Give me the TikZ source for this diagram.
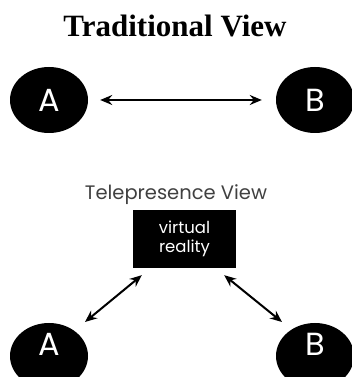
\documentclass[tikz,border=0pt]{standalone}
\usepackage{fontspec}
\setmainfont{Liberation Serif}
\newfontfamily\pop{Poppins}
\usetikzlibrary{arrows.meta,shapes.geometric}
\tikzset{
  blob/.style={ellipse,fill=black,minimum width=78pt,minimum height=66pt,inner sep=0pt,text=white,font=\pop\fontsize{32}{32}\selectfont},
  letter/.style={text=white,inner sep=0pt,font=\pop\fontsize{32}{32}\selectfont},
  arr/.style={line width=2pt,{Stealth[length=12pt,width=10pt,inset=4pt]}-{Stealth[length=12pt,width=10pt,inset=4pt]}},
  vrbox/.style={rectangle,fill=black,minimum width=103pt,minimum height=58pt,inner sep=0pt,text=white,align=center,font=\pop\fontsize{16.5}{19.5}\selectfont}
}
\begin{document}
\begin{tikzpicture}[x=1pt,y=1pt]
\useasboundingbox (0,0) rectangle (352,377);
\clip (0,0) rectangle (352,377);
\node[font=\bfseries\fontsize{31}{31}\selectfont] (title) at (175,351) {Traditional View};
\node[blob] (A1) at (49,277) {A};
\node[blob] (B1) at (315,277) {B};
\draw[arr,shorten <=12pt,shorten >=14pt] (A1) -- (B1);
\node[font=\pop\fontsize{19.5}{19.5}\selectfont,text=black!75] (tele) at (176,182) {Telepresence View};
\node[vrbox] (VR) at (184.5,138) {virtual\\reality};
\node[blob] (A2) at (49,21) {};
\node[letter] (A2t) at (49,33) {A};
\node[blob] (B2) at (315,21) {};
\node[letter] (B2t) at (315,33) {B};
\draw[arr] ([shift={(36pt,34pt)}]A2.center) -- ([shift={(9pt,-7pt)}]VR.south west);
\draw[arr] ([shift={(-12pt,-7pt)}]VR.south east) -- ([shift={(-33pt,34pt)}]B2.center);
\end{tikzpicture}
\end{document}
